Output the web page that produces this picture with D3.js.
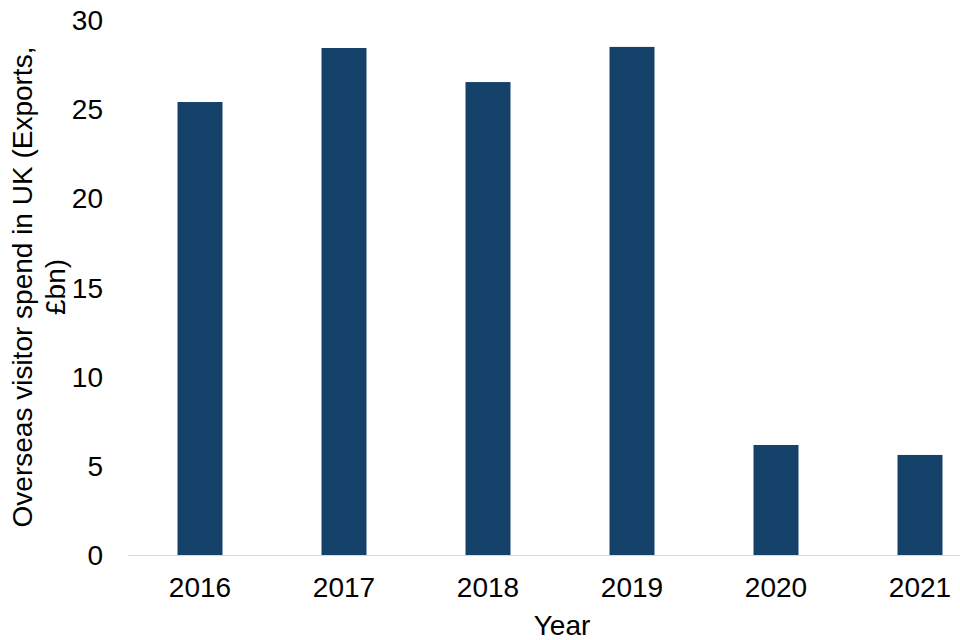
<!DOCTYPE html>
<html>
<head>
<meta charset="utf-8">
<script src="https://cdn.jsdelivr.net/npm/d3@7"></script>
<style>
  html, body { margin: 0; padding: 0; background: #ffffff; }
  svg { display: block; }
  text { font-family: "Liberation Sans", Arial, sans-serif; fill: #000; }
</style>
</head>
<body>
<svg id="chart" width="960" height="640"></svg>
<script>
const years = ["2016", "2017", "2018", "2019", "2020", "2021"];
const spend = [25.4, 28.43, 26.52, 28.49, 6.17, 5.61];
const yTicks = [0, 5, 10, 15, 20, 25, 30];
const yTitleLines = ["Overseas visitor spend in UK (Exports,", "£bn)"];
const xTitle = "Year";

const svg = d3.select("#chart");
const mLeft = 128, mRight = 992, mTop = 20, mBottom = 555;
const fontSize = "28px";

const x = d3.scaleBand().domain(years).range([mLeft, mRight])
  .paddingInner(0.6875).paddingOuter(0.34375);
const y = d3.scaleLinear().domain([0, 30]).range([mBottom, mTop]);

// bars
svg.append("g").selectAll("rect")
  .data(years.map((yr, i) => ({ yr, v: spend[i] })))
  .join("rect")
  .attr("x", d => x(d.yr))
  .attr("width", x.bandwidth())
  .attr("y", d => y(d.v))
  .attr("height", d => y(0) - y(d.v))
  .attr("fill", "#14426a");

// x axis
const xAxis = svg.append("g")
  .attr("transform", `translate(0,${mBottom})`)
  .call(d3.axisBottom(x).tickSize(0).tickPadding(0));
xAxis.select(".domain").attr("stroke", "#d9d9d9").attr("stroke-width", 1)
  .attr("d", `M${mLeft},0.5H${mRight}`);
xAxis.selectAll(".tick text")
  .attr("y", 42).attr("dy", null)
  .style("font-size", fontSize)
  .style("font-family", "'Liberation Sans', Arial, sans-serif");

// y axis
const yAxis = svg.append("g")
  .attr("transform", `translate(${mLeft},0)`)
  .call(d3.axisLeft(y).tickValues(yTicks).tickSize(0).tickPadding(25));
yAxis.select(".domain").remove();
yAxis.selectAll(".tick text")
  .attr("dy", "0.34em")
  .style("font-size", fontSize)
  .style("font-family", "'Liberation Sans', Arial, sans-serif");

// y title
const yt = svg.append("text")
  .attr("transform", "translate(32,287) rotate(-90)")
  .attr("text-anchor", "middle")
  .style("font-size", fontSize);
yt.selectAll("tspan").data(yTitleLines).join("tspan")
  .attr("x", 0)
  .attr("dy", (d, i) => i === 0 ? 0 : 33)
  .text(d => d);

// x title
svg.append("text")
  .attr("x", 562).attr("y", 635)
  .attr("text-anchor", "middle")
  .style("font-size", fontSize)
  .text(xTitle);
</script>
</body>
</html>
